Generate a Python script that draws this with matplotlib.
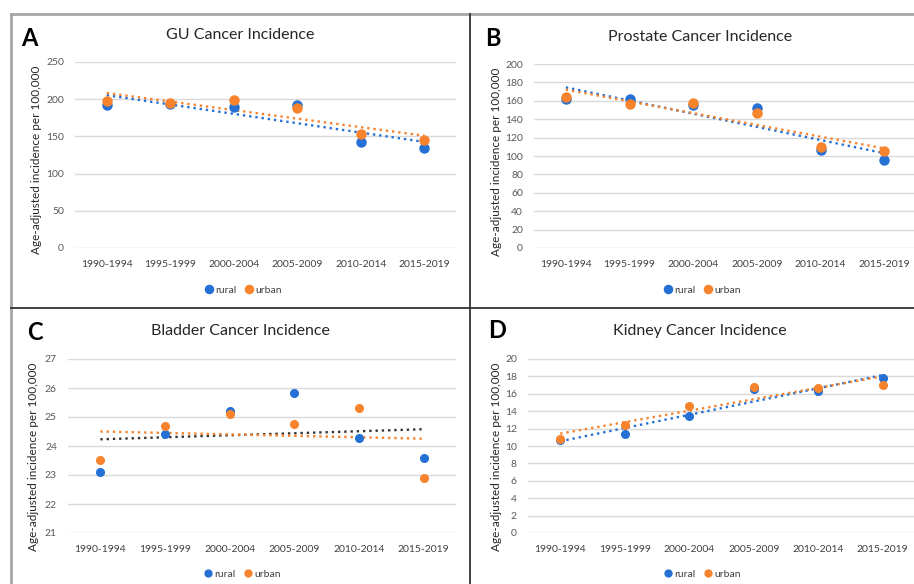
import numpy as np
import matplotlib.pyplot as plt
from matplotlib.lines import Line2D

plt.rcParams['font.family'] = ['Lato', 'DejaVu Sans']

periods = ['1990-1994', '1995-1999', '2000-2004', '2005-2009', '2010-2014', '2015-2019']

gu_rural = [192, 194, 189, 192, 143, 134]
gu_urban = [198, 195, 199, 188, 153, 145]

prostate_rural = [162, 162, 155, 152, 106, 96]
prostate_urban = [164, 157, 158, 147, 110, 105]

bladder_rural = [23.12, 24.43, 25.2, 25.83, 24.28, 23.57]
bladder_urban = [23.52, 24.7, 25.1, 24.76, 25.3, 22.88]

kidney_rural = [10.7, 11.4, 13.4, 16.5, 16.3, 17.8]
kidney_urban = [10.8, 12.4, 14.6, 16.8, 16.7, 17.0]

BLUE = '#2470d4'
ORANGE = '#f7832c'
W, H = 914, 584

fig = plt.figure(figsize=(W / 100, H / 100), dpi=100)


def px_axes(x0, y0, x1, y1):
    return fig.add_axes([x0 / W, 1 - y1 / H, (x1 - x0) / W, (y1 - y0) / H])


def panel(box, rural, urban, ylim, step, title, tx, ty, lx, ly, ylab_x, ylab_y,
          ms, rural_trend=BLUE):
    ax = px_axes(*box)
    x = np.arange(len(periods))
    for vals, tcol in [(rural, rural_trend), (urban, ORANGE)]:
        k, b = np.polyfit(x, vals, 1)
        ax.plot(x, k * x + b, color=tcol, linestyle=':', linewidth=1.7, zorder=2)
    ax.plot(x, rural, 'o', color=BLUE, markersize=ms, zorder=3, label='rural')
    ax.plot(x, urban, 'o', color=ORANGE, markersize=ms, zorder=4, label='urban')
    ax.set_xlim(-0.5, 5.5)
    ax.set_ylim(*ylim)
    ax.set_yticks(np.arange(ylim[0], ylim[1] + step / 2, step))
    ax.set_xticks(x)
    ax.set_xticklabels(periods)
    ax.grid(axis='y', color='#d9d9d9', linewidth=1)
    ax.set_axisbelow(True)
    for s in ax.spines.values():
        s.set_visible(False)
    ax.tick_params(axis='y', length=0, pad=8, labelsize=7.5, labelcolor='#595959')
    ax.tick_params(axis='x', length=0, pad=9, labelsize=7.5, labelcolor='#404040')
    fig.text(ylab_x / W, 1 - ylab_y / H, 'Age-adjusted incidence per 100,000', rotation=90,
             ha='center', va='center', fontsize=8.5, color='#262626')
    fig.text(tx / W, 1 - ty / H, title, ha='center', va='center', fontsize=11.5, color='#262626')
    leg = ax.legend(loc='center', bbox_to_anchor=(lx / W, 1 - ly / H), bbox_transform=fig.transFigure,
                    ncol=2, frameon=False, fontsize=7.5, handletextpad=0.2, handlelength=0.8,
                    columnspacing=0.8, markerscale=0.9)
    for t in leg.get_texts():
        t.set_color('#404040')
    return ax


panel((75, 62, 456, 248), gu_rural, gu_urban, (0, 250), 50, 'GU Cancer Incidence',
      240, 35, 243, 290, 37, 160, 6.5)
panel((534, 64, 916, 248), prostate_rural, prostate_urban, (0, 200), 20, 'Prostate Cancer Incidence',
      700, 37, 702, 290, 496, 162, 6.5)
panel((68, 359, 456, 533), bladder_rural, bladder_urban, (21, 27), 1, 'Bladder Cancer Incidence',
      240, 331, 242, 574, 34, 457, 5.5, rural_trend='#333333')
panel((528, 359, 915, 533), kidney_rural, kidney_urban, (0, 20), 2, 'Kidney Cancer Incidence',
      700, 331, 702, 574, 496, 457, 5.5)

for letter, lx, ly in [('A', 29, 38), ('B', 493, 38), ('C', 35, 333), ('D', 497, 331)]:
    fig.text(lx / W, 1 - ly / H, letter, ha='center', va='center', fontsize=17, fontweight='bold')

# panel frames
fig.add_artist(Line2D([11 / W, 1], [1 - 14 / H] * 2, color='#a6a6a6', linewidth=2))
fig.add_artist(Line2D([11 / W] * 2, [0, 1 - 14 / H], color='#a6a6a6', linewidth=2))
fig.add_artist(Line2D([11 / W, 1], [1 - 308 / H] * 2, color='#333333', linewidth=1.3))
fig.add_artist(Line2D([470 / W] * 2, [0, 1 - 14 / H], color='#333333', linewidth=1.3))

fig.savefig('out.png', dpi=100)
